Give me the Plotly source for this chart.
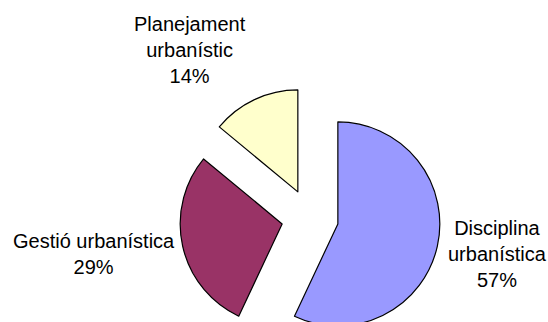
import plotly.graph_objects as go

# Distribució per àmbit (percentatges)
labels = ["Disciplina urbanística", "Gestió urbanística", "Planejament urbanístic"]
values = [57, 29, 14]
colors = ["#9999FF", "#993366", "#FFFFCC"]

# Text de les etiquetes, amb salts de línia
label_lines = [["Disciplina", "urbanística"], ["Gestió urbanística"], ["Planejament", "urbanístic"]]
label_pos = [(497, 254), (94, 254), (190, 50)]  # centre de cada etiqueta, en píxels

W, H = 548, 350
total = sum(values)

fig = go.Figure(
    go.Pie(
        labels=labels,
        values=values,
        sort=False,
        direction="clockwise",
        rotation=0,
        pull=[0.28, 0.28, 0.28],
        marker=dict(colors=colors, line=dict(color="black", width=1.2)),
        textinfo="none",
        hoverinfo="label+percent",
        showlegend=False,
        domain=dict(x=[179.5 / W, 440.5 / W], y=[1 - 348.2 / H, 1 - 87.2 / H]),
    )
)

for lines, v, (px, py) in zip(label_lines, values, label_pos):
    pct = round(100 * v / total)
    text = "<br>".join(lines + [f"{pct}%"])
    fig.add_annotation(
        x=px / W, y=1 - py / H, xref="paper", yref="paper",
        text=text, showarrow=False, xanchor="center", yanchor="middle",
        font=dict(family="Liberation Sans, Arial, sans-serif", size=20, color="black"),
    )

fig.update_layout(
    width=W, height=H,
    margin=dict(l=0, r=0, t=0, b=0),
    paper_bgcolor="white", plot_bgcolor="white",
)

fig.write_html("out.html")
